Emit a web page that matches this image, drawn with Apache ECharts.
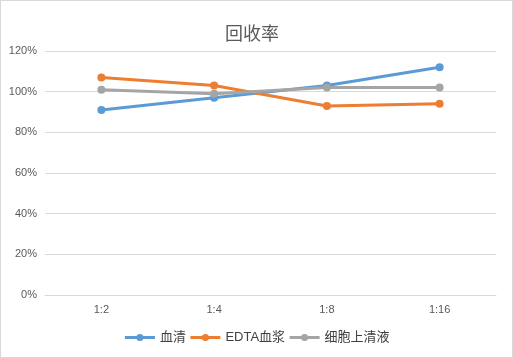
<!DOCTYPE html>
<html><head><meta charset="utf-8">
<script src="https://cdn.jsdelivr.net/npm/echarts@6/dist/echarts.min.js"></script>
<style>html,body{margin:0;padding:0;background:#fff}#c{width:513px;height:358px;box-sizing:border-box;border:1px solid #d9d9d9}</style>
</head><body><div id="c"></div>
<script>
const categories = ['1:2', '1:4', '1:8', '1:16'];
const serum = [91, 97, 103, 112];
const edtaPlasma = [107, 103, 93, 94];
const cellSupernatant = [101, 99, 102, 102];
const seriesNames = ['血清', 'EDTA血浆', '细胞上清液'];
const colors = ['#5B9BD5', '#ED7D31', '#A5A5A5'];

const chart = echarts.init(document.getElementById('c'), null, {renderer: 'canvas'});
const font = '"Liberation Sans", "Noto Sans CJK SC", sans-serif';
function mk(name, data, color) {
  return {
    name: name, type: 'line', data: data,
    symbol: 'circle', symbolSize: 8,
    lineStyle: {width: 3, color: color},
    itemStyle: {color: color},
    emphasis: {disabled: true}
  };
}
chart.setOption({
  animation: false,
  textStyle: {fontFamily: font},
  title: {
    text: '回收率', left: 219, top: 18,
    textStyle: {fontSize: 18, fontWeight: 'normal', color: '#595959', fontFamily: '"Noto Sans CJK SC", sans-serif'}
  },
  legend: {
    bottom: 8, left: 'center', itemWidth: 30, itemHeight: 9, itemGap: 3,
    lineStyle: {width: 3},
    textStyle: {fontSize: 13, color: '#404040', fontFamily: font},
    data: seriesNames
  },
  grid: {left: 44, right: 16, top: 50, bottom: 62},
  xAxis: {
    type: 'category', data: categories, boundaryGap: true,
    axisLine: {show: true, lineStyle: {color: '#d9d9d9'}},
    axisTick: {show: false},
    axisLabel: {color: '#595959', fontSize: 11, margin: 9, fontFamily: font}
  },
  yAxis: {
    type: 'value', min: 0, max: 120, interval: 20,
    axisLine: {show: false}, axisTick: {show: false},
    splitLine: {lineStyle: {color: '#d9d9d9', width: 1}},
    axisLabel: {color: '#595959', fontSize: 11, margin: 8, formatter: '{value}%', fontFamily: font}
  },
  series: [
    mk(seriesNames[0], serum, colors[0]),
    mk(seriesNames[1], edtaPlasma, colors[1]),
    mk(seriesNames[2], cellSupernatant, colors[2])
  ]
});
</script></body></html>
